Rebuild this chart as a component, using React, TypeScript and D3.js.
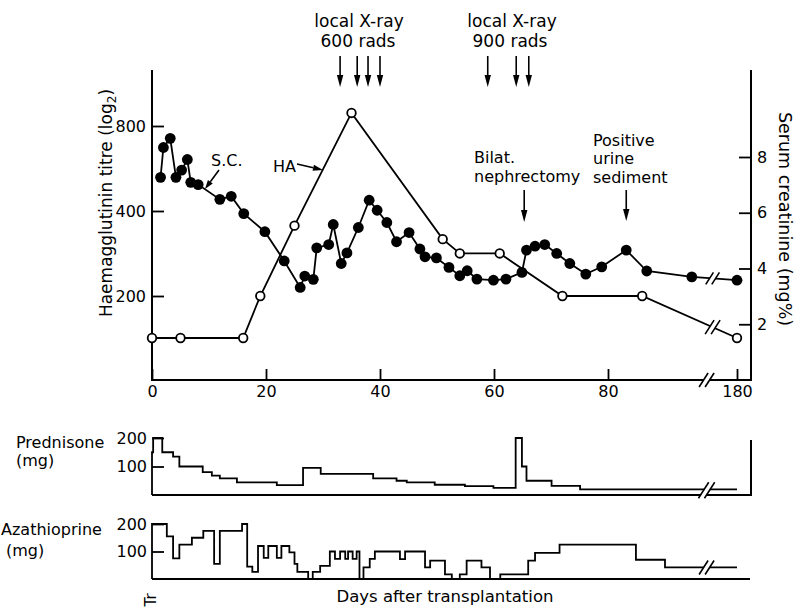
import React, { useEffect, useRef } from 'react'
import * as d3 from 'd3'

// Haemagglutinin titre (open circles), log2 axis
const haDays = [0, 5, 16, 19, 25, 35, 51, 54, 61, 72, 86, 180]
const haTitre = [142, 142, 142, 200, 355, 890, 318, 283, 283, 200, 200, 142]

// Serum creatinine mg% (filled circles)
const scDays = [
  1.5, 2, 3.2, 4.2, 5.2, 6.2, 6.8, 8.1, 11.9, 13.9, 16.1, 19.8, 23.2, 26, 26.8,
  28.3, 28.9, 31, 31.8, 33.2, 34.2, 36.2, 38.1, 39.5, 41.2, 42.9, 45.1, 47,
  47.9, 49.9, 52.1, 54, 55.3, 57, 59.9, 62.1, 64.9, 65.7, 67.2, 68.9, 71, 73.3,
  76.1, 78.9, 83.2, 86.8, 94.7, 180,
]
const scValues = [
  7.27, 8.34, 8.67, 7.27, 7.53, 7.91, 7.09, 7.01, 6.48, 6.59, 5.97, 5.32, 4.27,
  3.32, 3.73, 3.61, 4.74, 4.86, 5.58, 4.18, 4.56, 5.47, 6.45, 6.09, 5.65, 4.96,
  5.29, 4.7, 4.42, 4.38, 4.04, 3.74, 3.92, 3.62, 3.58, 3.62, 3.86, 4.66, 4.8,
  4.86, 4.54, 4.18, 3.8, 4.06, 4.66, 3.91, 3.7, 3.58,
]

// Prednisone dose (mg), step changes
const predDays = [
  0, 0.2, 1.8, 3.7, 4.8, 8.9, 10.5, 11.9, 14.9, 21.9, 26.5, 29.6, 38.8, 42.9,
  44.7, 49.6, 54.9, 59.9, 63.8, 64.9, 65.7, 70.1, 75.1, 180,
]
const predDoses = [
  150, 200, 150, 135, 100, 80, 68, 58, 44, 35, 95, 74, 58, 50, 44, 36, 31, 25,
  200, 100, 50, 32, 20, 20,
]

// Azathioprine dose (mg), step changes
const azaDays = [
  0, 2.6, 3.7, 4.8, 7, 9, 10.9, 11.9, 15.8, 16.7, 17.6, 18.6, 19.6, 20.4, 21.9,
  22.7, 24.1, 25, 25.5, 27.4, 28.2, 29.5, 31.2, 32.1, 33, 33.9, 34.4, 35.2,
  35.9, 36.4, 37.1, 38.2, 39.1, 43.5, 44.4, 47.9, 48.8, 51.4, 52.6, 54, 55.2,
  57.8, 59.3, 61.1, 66, 67.2, 71.5, 84.9, 90, 180,
]
const azaDoses = [
  200, 155, 75, 125, 150, 175, 55, 175, 200, 45, 26, 120, 77, 120, 77, 120, 97,
  55, 26, 0, 26, 48, 100, 73, 100, 73, 100, 73, 100, 0, 42, 73, 100, 72, 100,
  42, 67, 17, 0, 17, 67, 42, 0, 17, 67, 95, 125, 70, 42, 42,
]

const xTicks = [0, 20, 40, 60, 80, 180]
const haTicks = [200, 400, 800]
const scTicks = [2, 4, 6, 8]
const doseTicks = [100, 200]

const xRay600 = [33, 36, 37.9, 40]
const xRay900 = [58.9, 63.9, 66.1]
const nephrectomyDay = 65.3
const urineDay = 83.2
const breakDay = 98

const font = 'DejaVu Sans, sans-serif'

export const TransplantChart = () => {
  const ref = useRef(null)

  useEffect(() => {
    const svg = d3.select(ref.current)
    svg.selectAll('*').remove()

    const x = d3.scaleLinear().domain([0, 100, 180]).range([152, 722, 737])
    const yHA = d3.scaleLog().base(2).domain([100, 800]).range([381, 126])
    const ySC = d3.scaleLinear().domain([0, 8]).range([380, 157])
    const yPred = d3.scaleLinear().domain([0, 200]).range([495, 438])
    const yAza = d3.scaleLinear().domain([0, 200]).range([579, 524])

    const left = 152
    const right = 751
    const base = 380
    const top = 70

    const g = svg.append('g')
      .attr('font-family', font)
      .attr('fill', '#000')

    const arrow = (x1, y1, x2, y2, head = 11, half = 3.2) => {
      const a = Math.atan2(y2 - y1, x2 - x1)
      const bx = x2 - head * Math.cos(a)
      const by = y2 - head * Math.sin(a)
      g.append('line')
        .attr('x1', x1).attr('y1', y1).attr('x2', bx).attr('y2', by)
        .attr('stroke', '#000').attr('stroke-width', 1.6)
      g.append('path')
        .attr('d', `M${x2},${y2}L${bx - half * Math.sin(a)},${by + half * Math.cos(a)}L${bx + half * Math.sin(a)},${by - half * Math.cos(a)}Z`)
        .attr('fill', '#000')
    }

    const breakMark = (cx, cy, len = 14) => {
      const dx = len * 0.32
      const dy = len / 2
      g.append('path')
        .attr('d', `M${cx - 3 - dx},${cy + dy}L${cx - 3 + dx},${cy - dy}L${cx + 3 + dx},${cy - dy}L${cx + 3 - dx},${cy + dy}Z`)
        .attr('fill', '#fff')
      ;[-3, 3].forEach((o) => {
        g.append('line')
          .attr('x1', cx + o - dx).attr('y1', cy + dy)
          .attr('x2', cx + o + dx).attr('y2', cy - dy)
          .attr('stroke', '#000').attr('stroke-width', 1.6)
      })
    }

    const lineAt = (pts, px) => {
      const a = pts[pts.length - 2]
      const b = pts[pts.length - 1]
      const t = (px - a[0]) / (b[0] - a[0])
      return a[1] + t * (b[1] - a[1])
    }

    // frame
    g.append('path')
      .attr('d', `M${left},${top}V${base}H${right}V${top}`)
      .attr('fill', 'none').attr('stroke', '#000').attr('stroke-width', 2)

    const styleAxis = (sel) => {
      sel.select('.domain').remove()
      sel.selectAll('line').attr('stroke-width', 1.8)
      sel.selectAll('text').attr('font-family', font).attr('font-size', 16)
    }

    g.append('g').attr('transform', `translate(${left},0)`)
      .call(d3.axisLeft(yHA).tickValues(haTicks).tickFormat(d3.format('d')).tickSizeInner(-12).tickSizeOuter(0).tickPadding(6))
      .call(styleAxis)

    g.append('g').attr('transform', `translate(${right},0)`)
      .call(d3.axisRight(ySC).tickValues(scTicks).tickSizeInner(-12).tickSizeOuter(0).tickPadding(6))
      .call(styleAxis)

    g.append('g').attr('transform', `translate(0,${base})`)
      .call(d3.axisBottom(x).tickValues(xTicks).tickSizeInner(-11).tickSizeOuter(0).tickPadding(6))
      .call(styleAxis)

    breakMark(x(breakDay) - 4, base, 14)

    // HA line
    const haPts = haDays.map((d, i) => [x(d), yHA(haTitre[i])])
    g.append('path')
      .attr('d', d3.line()(haPts))
      .attr('fill', 'none').attr('stroke', '#000').attr('stroke-width', 1.8)

    // SC line
    const scPts = scDays.map((d, i) => [x(d), ySC(scValues[i])])
    g.append('path')
      .attr('d', d3.line()(scPts))
      .attr('fill', 'none').attr('stroke', '#000').attr('stroke-width', 1.8)

    const bx = x(breakDay) + 2
    breakMark(bx, lineAt(haPts, bx), 14)
    breakMark(bx, lineAt(scPts, bx), 12)

    g.append('g').selectAll('circle')
      .data(haPts).enter().append('circle')
      .attr('cx', (d) => d[0]).attr('cy', (d) => d[1]).attr('r', 4.3)
      .attr('fill', '#fff').attr('stroke', '#000').attr('stroke-width', 1.8)

    g.append('g').selectAll('circle')
      .data(scPts).enter().append('circle')
      .attr('cx', (d) => d[0]).attr('cy', (d) => d[1]).attr('r', 5.4)
      .attr('fill', '#000')

    // axis titles
    const haTitle = g.append('text')
      .attr('transform', 'translate(112,203) rotate(-90)')
      .attr('text-anchor', 'middle').attr('font-size', 17)
    haTitle.append('tspan').text('Haemagglutinin titre (log')
    haTitle.append('tspan').attr('font-size', 12).attr('dy', 4).text('2')
    haTitle.append('tspan').attr('dy', -4).text(')')

    g.append('text')
      .attr('transform', 'translate(779,219) rotate(90)')
      .attr('text-anchor', 'middle').attr('font-size', 17.5)
      .text('Serum creatinine (mg%)')

    // annotations
    const label = (tx, ty, s, anchor = 'start', size = 16) =>
      g.append('text').attr('x', tx).attr('y', ty)
        .attr('text-anchor', anchor).attr('font-size', size).text(s)

    label(359, 27, 'local X-ray', 'middle', 17)
    label(358, 47, '600 rads', 'middle', 17)
    label(512, 27, 'local X-ray', 'middle', 17)
    label(510, 47, '900 rads', 'middle', 17)
    xRay600.concat(xRay900).forEach((d) => arrow(x(d), 56, x(d), 87, 12, 3.2))

    label(211, 166, 'S.C.')
    arrow(219, 170, 205, 189, 9, 3)
    label(273, 172, 'HA')
    arrow(297, 164, 323, 170, 10, 3)

    label(474, 163, 'Bilat.')
    label(474, 182, 'nephrectomy')
    arrow(x(nephrectomyDay), 190, x(nephrectomyDay), 222, 12, 3.2)

    label(593, 146, 'Positive')
    label(593, 164, 'urine')
    label(593, 183, 'sediment')
    arrow(x(urineDay), 190, x(urineDay), 221, 12, 3.2)

    // prednisone panel
    g.append('path')
      .attr('d', `M${left},${yPred(0)}H${right}V440`)
      .attr('fill', 'none').attr('stroke', '#000').attr('stroke-width', 2)
    g.append('g').attr('transform', `translate(${left},0)`)
      .call(d3.axisLeft(yPred).tickValues(doseTicks).tickSizeInner(-12).tickSizeOuter(0).tickPadding(5))
      .call(styleAxis)
    const predPts = [[0, 0]].concat(predDays.map((d, i) => [d, predDoses[i]]))
    const predLine = d3.line().x((d) => x(d[0])).y((d) => yPred(d[1])).curve(d3.curveStepAfter)
    g.append('path').attr('d', predLine(predPts))
      .attr('fill', 'none').attr('stroke', '#000').attr('stroke-width', 1.8)
    breakMark(x(breakDay) - 4, yPred(20) + 1, 16)
    label(16, 448, 'Prednisone')
    label(16, 466, '(mg)')

    // azathioprine panel
    g.append('path')
      .attr('d', `M${left},${yAza(0)}H${right - 1}`)
      .attr('fill', 'none').attr('stroke', '#000').attr('stroke-width', 2)
    g.append('g').attr('transform', `translate(${left},0)`)
      .call(d3.axisLeft(yAza).tickValues(doseTicks).tickSizeInner(-12).tickSizeOuter(0).tickPadding(5))
      .call(styleAxis)
    const azaPts = [[0, 0]].concat(azaDays.map((d, i) => [d, azaDoses[i]]))
    const azaLine = d3.line().x((d) => x(d[0])).y((d) => yAza(d[1])).curve(d3.curveStepAfter)
    g.append('path').attr('d', azaLine(azaPts))
      .attr('fill', 'none').attr('stroke', '#000').attr('stroke-width', 1.8)
    breakMark(x(breakDay) - 4, yAza(42), 14)
    label(1, 535, 'Azathioprine')
    label(6, 556, '(mg)')

    g.append('text')
      .attr('transform', 'translate(156,600) rotate(-90)')
      .attr('text-anchor', 'middle').attr('font-size', 15)
      .text('Tr')
    label(445, 602, 'Days after transplantation', 'middle', 16.5)
  }, [])

  return (
    <svg
      ref={ref}
      width={794}
      height={610}
      style={{ position: 'absolute', left: 0, top: 0, background: '#fff' }}
    />
  )
}

export default TransplantChart
